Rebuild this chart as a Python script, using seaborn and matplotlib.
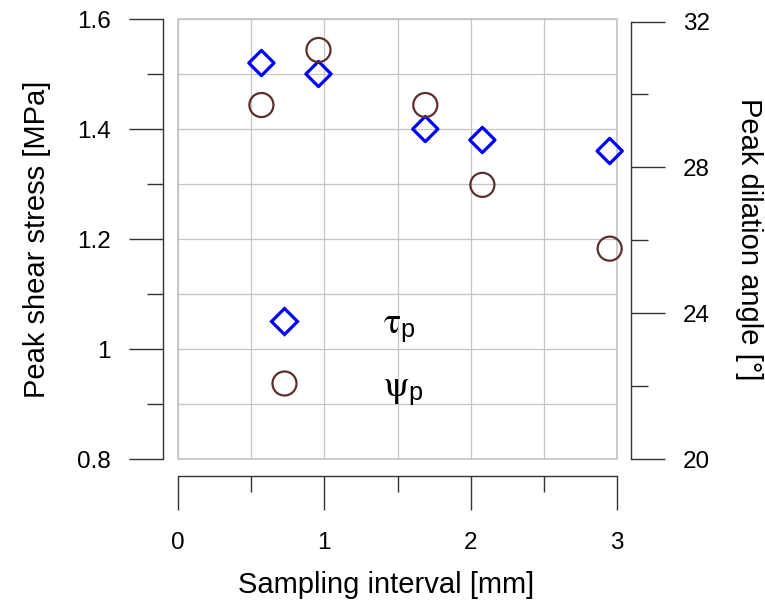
import numpy as np
import pandas as pd
import matplotlib
matplotlib.use("Agg")
import matplotlib.pyplot as plt
from matplotlib.lines import Line2D
from matplotlib.patches import Rectangle
from matplotlib.ticker import MultipleLocator
import seaborn as sns

# Sampling interval [mm]
interval = [0.57, 0.96, 1.69, 2.08, 2.95]
# Peak shear stress tau_p [MPa] (left axis)
peak_shear = [1.52, 1.50, 1.40, 1.38, 1.36]
# Peak dilation angle psi_p [deg] (right axis)
peak_dilation = [29.71, 31.22, 29.71, 27.52, 25.77]

x_ticks = [0, 1, 2, 3]
left_ticks = [0.8, 1.0, 1.2, 1.4, 1.6]
left_labels = ["0.8", "1", "1.2", "1.4", "1.6"]
right_ticks = [20, 24, 28, 32]

df = pd.DataFrame({"interval": interval, "tau": peak_shear, "psi": peak_dilation})

sns.set_style("white")
plt.rcParams["font.family"] = ["Liberation Sans", "DejaVu Sans"]
plt.rcParams["mathtext.fontset"] = "stix"
plt.rcParams["text.color"] = "black"
plt.rcParams["axes.labelcolor"] = "black"

W, H = 765, 606
PX = 72 / 100  # points per pixel at 100 dpi
fig = plt.figure(figsize=(W / 100, H / 100), dpi=100)
ax = fig.add_axes([178 / W, 1 - 459 / H, (617 - 178) / W, (459 - 19) / H])
ax2 = ax.twinx()

DIAMOND = "#0000ff"
CIRCLE = "#5e2e2e"
GRID = "#c4c4c4"
SPINE = "#333333"

sns.scatterplot(data=df, x="interval", y="tau", ax=ax, marker="D", s=165,
                facecolor="none", edgecolor=DIAMOND, linewidth=2.3, zorder=4,
                clip_on=False)
sns.scatterplot(data=df, x="interval", y="psi", ax=ax2, marker="o", s=300,
                facecolor="none", edgecolor=CIRCLE, linewidth=1.6, zorder=4,
                clip_on=False)

ax.set_xlim(0, 3)
ax.set_ylim(0.8, 1.6)
ax2.set_ylim(20.07, 32.07)

# grid: every 0.5 mm and every 0.1 MPa, light grey frame around the data area
ax.xaxis.set_major_locator(MultipleLocator(1))
ax.xaxis.set_minor_locator(MultipleLocator(0.5))
ax.yaxis.set_major_locator(MultipleLocator(0.2))
ax.yaxis.set_minor_locator(MultipleLocator(0.1))
ax.grid(True, which="both", color=GRID, linewidth=0.9)
ax.set_axisbelow(True)
ax.add_patch(Rectangle((0, 0), 1, 1, transform=ax.transAxes, fill=False,
                       edgecolor=GRID, linewidth=1.2, zorder=1, clip_on=False))

ax.set_xticks(x_ticks)
ax.set_yticks(left_ticks)
ax.set_yticklabels(left_labels)
ax2.set_yticks(right_ticks)
ax2.yaxis.set_minor_locator(MultipleLocator(2))

for a in (ax, ax2):
    for s in a.spines.values():
        s.set_visible(False)

ax.spines["left"].set_visible(True)
ax.spines["left"].set_position(("outward", 15 * PX))
ax.spines["left"].set_bounds(0.8, 1.6)
ax.spines["bottom"].set_visible(True)
ax.spines["bottom"].set_position(("outward", 17 * PX))
ax.spines["bottom"].set_bounds(0, 3)
ax2.spines["right"].set_visible(True)
ax2.spines["right"].set_position(("outward", 14 * PX))
ax2.spines["right"].set_bounds(20, 32)
for s in (ax.spines["left"], ax.spines["bottom"], ax2.spines["right"]):
    s.set_color(SPINE)
    s.set_linewidth(1.0)

tick_kw = dict(direction="out", color=SPINE, width=1.0, labelsize=17.5, labelcolor="black")
ax.tick_params(axis="x", which="major", length=34 * PX, pad=22 * PX, bottom=True, **tick_kw)
ax.tick_params(axis="x", which="minor", length=16 * PX, bottom=True, **tick_kw)
ax.tick_params(axis="y", which="major", length=34 * PX, pad=18 * PX, left=True, **tick_kw)
ax.tick_params(axis="y", which="minor", length=16 * PX, left=True, **tick_kw)
ax2.tick_params(axis="y", which="major", length=34 * PX, pad=18 * PX, right=True, **tick_kw)
ax2.tick_params(axis="y", which="minor", length=17 * PX, right=True, **tick_kw)

ax.set_xlabel("Sampling interval [mm]", fontsize=21, labelpad=12)
ax.xaxis.set_label_coords(0.475, -0.254)
ax.set_ylabel("Peak shear stress [MPa]", fontsize=21, labelpad=19)
ax2.set_ylabel("Peak dilation angle [°]", fontsize=21, rotation=270, labelpad=38)

handles = [
    Line2D([], [], linestyle="none", marker="D", markersize=12.8,
           markerfacecolor="none", markeredgecolor=DIAMOND, markeredgewidth=2.3),
    Line2D([], [], linestyle="none", marker="o", markersize=17.3,
           markerfacecolor="none", markeredgecolor=CIRCLE, markeredgewidth=1.6),
]
labels = [r"$\mathrm{\tau}_{\mathregular{p}}$", r"$\mathrm{\psi}_{\mathregular{p}}$"]
ax2.legend(handles, labels, loc="center left", frameon=False, fontsize=26,
           handlelength=1.5, handletextpad=2.0, labelspacing=0.65,
           bbox_to_anchor=(257 / W, 1 - 357 / H), bbox_transform=fig.transFigure,
           borderpad=0, borderaxespad=0)

fig.savefig("out.png", dpi=100)
